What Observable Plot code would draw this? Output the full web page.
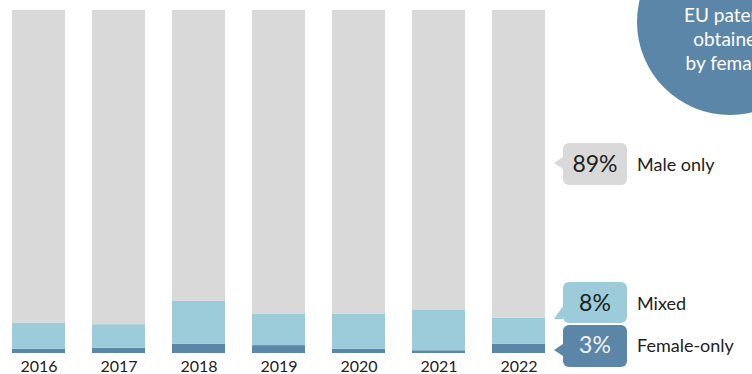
<!DOCTYPE html>
<html>
<head>
<meta charset="utf-8">
<script src="https://cdn.jsdelivr.net/npm/d3@7"></script>
<script src="https://cdn.jsdelivr.net/npm/@observablehq/plot@0.6"></script>
<style>
  html, body { margin: 0; padding: 0; background: #fff; }
  #chart { width: 752px; height: 374px; overflow: hidden; }
  svg { font-family: "Source Sans Pro", Lato, "Noto Sans", sans-serif; }
</style>
</head>
<body>
<div id="chart"></div>
<script>
const years = ["2016", "2017", "2018", "2019", "2020", "2021", "2022"];
const femaleOnly = [1.2, 1.5, 2.7, 2.3, 1.2, 0.8, 2.7];
const mixed = [7.7, 6.9, 12.5, 9.1, 10.3, 11.9, 7.6];
const maleOnly = [91.1, 91.6, 84.8, 88.6, 88.5, 87.3, 89.7];
const seriesNames = ["Female-only", "Mixed", "Male only"];
const seriesColors = ["#5b86a8", "#9ccbd9", "#d9d9d9"];
const legendValues = ["3%", "8%", "89%"];
const titleLines = ["EU patents", "obtained", "by females"];

const data = [];
years.forEach((y, i) => {
  data.push({year: y, series: "Female-only", value: femaleOnly[i]});
  data.push({year: y, series: "Mixed", value: mixed[i]});
  data.push({year: y, series: "Male only", value: maleOnly[i]});
});

const chart = Plot.plot({
  width: 752,
  height: 374,
  marginTop: 10,
  marginBottom: 21,
  marginLeft: 10,
  marginRight: 206,
  style: {fontFamily: '"Source Sans Pro", Lato, "Noto Sans", sans-serif', fontSize: "16px", color: "#222"},
  x: {domain: years, range: [10, 546], paddingInner: 0.34, paddingOuter: 0, label: null},
  y: {domain: [0, 100], range: [353, 10], axis: null},
  color: {domain: seriesNames, range: seriesColors},
  marks: [
    Plot.barY(data, {x: "year", y: "value", fill: "series", order: seriesNames, inset: 0}),
    Plot.axisX({tickSize: 0, tickPadding: 7, fontSize: 16, fill: "#222"})
  ]
});
document.getElementById("chart").appendChild(chart);

const svg = d3.select(chart);
const font = '"Source Sans Pro", Lato, "Noto Sans", sans-serif';

// circle title (top right)
const g0 = svg.append("g");
g0.append("circle").attr("cx", 730).attr("cy", 22).attr("r", 93).attr("fill", "#5b86a8");
titleLines.forEach((t, i) => {
  g0.append("text").attr("x", 730).attr("y", 22 + i * 24)
    .attr("text-anchor", "middle").attr("fill", "#fff")
    .style("font-family", font).style("font-size", "19px").text(t);
});

// callouts
const callouts = [
  {i: 2, y0: 143, y1: 185, tri: [[563,157],[554,163],[563,169]], base: 172, txt: "#222"},
  {i: 1, y0: 282, y1: 323, tri: [[563,306],[554,319],[563,319]], base: 311, txt: "#222"},
  {i: 0, y0: 325, y1: 367, tri: [[563,344],[554,350],[563,356]], base: 353, txt: "#f2f2f2"}
];
callouts.forEach(c => {
  const g = svg.append("g");
  g.append("rect").attr("x", 563).attr("y", c.y0).attr("width", 64).attr("height", c.y1 - c.y0)
    .attr("rx", 6).attr("fill", seriesColors[c.i]);
  g.append("path").attr("d", "M" + c.tri.map(p => p.join(",")).join("L") + "Z").attr("fill", seriesColors[c.i]);
  g.append("text").attr("x", 595).attr("y", c.base).attr("text-anchor", "middle")
    .attr("fill", c.txt).style("font-family", font).style("font-size", "23px").text(legendValues[c.i]);
  g.append("text").attr("x", 637).attr("y", c.base - 1).attr("text-anchor", "start").attr("fill", "#222")
    .style("font-family", font).style("font-size", "18px").text(seriesNames[c.i]);
});
</script>
</body>
</html>
